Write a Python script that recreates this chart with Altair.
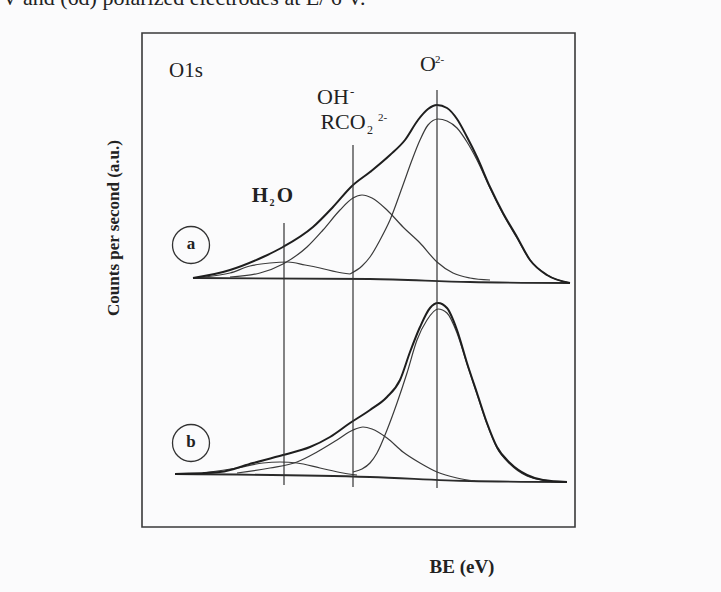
import altair as alt
import pandas as pd

# ---- data (x: binding energy, arbitrary units; y: counts, a.u.) ----
# spectrum (a)
ENV_A_X = [51, 88, 121, 141, 171, 191, 210, 228, 248, 263, 276, 286, 295, 305, 315, 325, 335, 348, 361, 375, 388, 405, 428]
ENV_A_Y = [249, 257, 270, 280, 300, 320, 341, 355, 372, 387, 407, 418, 422, 419, 408, 390, 370, 340, 314, 290, 267, 252, 244]
O2_A_X = [208, 220, 228, 238, 248, 261, 270, 278, 286, 296, 305, 315, 325, 335, 348, 361, 375, 388, 405, 428]
O2_A_Y = [253, 261, 270, 287, 307, 342, 367, 387, 402, 408, 406, 399, 385, 367, 339, 313, 289, 267, 252, 244]
OH_A_X = [88, 118, 141, 165, 181, 198, 211, 220, 230, 245, 261, 278, 295, 311, 328, 348]
OH_A_Y = [250, 254, 263, 280, 297, 317, 329, 332, 329, 317, 300, 284, 265, 254, 249, 247]
H2O_A_X = [63, 88, 108, 128, 146, 163, 178, 195, 208]
H2O_A_Y = [250, 254, 261, 264, 265, 262, 259, 255, 253]
BASE_A_X = [51, 228, 328, 428]
BASE_A_Y = [249, 248, 245, 244]

# spectrum (b)
ENV_B_X = [33, 78, 111, 141, 168, 188, 208, 228, 245, 258, 268, 278, 288, 296, 305, 315, 325, 335, 345, 355, 368, 385, 401, 425]
ENV_B_Y = [53, 55, 64, 72, 80, 90, 104, 117, 130, 147, 175, 200, 219, 224, 219, 197, 164, 134, 104, 80, 64, 52, 47, 45]
O2_B_X = [211, 220, 228, 235, 245, 255, 265, 275, 285, 296, 305, 315, 325, 335, 345, 355, 368, 385, 401, 425]
O2_B_Y = [55, 58, 64, 74, 97, 124, 154, 187, 207, 218, 214, 194, 163, 133, 103, 79, 63, 51, 47, 45]
OH_B_X = [95, 128, 155, 175, 195, 211, 221, 230, 245, 261, 278, 295, 315, 333]
OH_B_Y = [54, 59, 65, 75, 87, 97, 100, 98, 89, 75, 64, 55, 49, 46]
H2O_B_X = [61, 95, 121, 138, 155, 178, 201, 215]
H2O_B_Y = [54, 59, 64, 65, 64, 59, 54, 52]
BASE_B_X = [33, 228, 328, 425]
BASE_B_Y = [53, 50, 46, 45]

# peak position markers (H2O, OH/RCO2, O2-)
MARK_X = [142, 211, 295]
MARK_Y_LOW = [42, 40, 39]
MARK_Y_HIGH = [304, 382, 437]

# spectrum tags
TAG_TEXT = ["a", "b"]
TAG_X = [49, 49]
TAG_Y = [282, 84]

SERIF = "Liberation Serif"
INK = "#222222"


def frame(name, xs, ys):
    return pd.DataFrame({"be": xs, "counts": ys, "curve": name})


envelopes = pd.concat([frame("a", ENV_A_X, ENV_A_Y), frame("b", ENV_B_X, ENV_B_Y)])
components = pd.concat([
    frame("a O2-", O2_A_X, O2_A_Y), frame("a OH", OH_A_X, OH_A_Y), frame("a H2O", H2O_A_X, H2O_A_Y),
    frame("b O2-", O2_B_X, O2_B_Y), frame("b OH", OH_B_X, OH_B_Y), frame("b H2O", H2O_B_X, H2O_B_Y),
])
baselines = pd.concat([frame("a", BASE_A_X, BASE_A_Y), frame("b", BASE_B_X, BASE_B_Y)])
markers = pd.DataFrame({"be": MARK_X, "lo": MARK_Y_LOW, "hi": MARK_Y_HIGH})
tags = pd.DataFrame({"be": TAG_X, "counts": TAG_Y, "t": TAG_TEXT})

xs = alt.Scale(domain=[0, 433], nice=False, zero=False)
ys = alt.Scale(domain=[0, 494], nice=False, zero=False)
X = alt.X("be:Q", scale=xs, axis=None)
Y = alt.Y("counts:Q", scale=ys, axis=None)

env_layer = alt.Chart(envelopes).mark_line(
    interpolate="monotone", color="#1e1e1e", strokeWidth=2.0
).encode(x=X, y=Y, detail="curve:N")

comp_layer = alt.Chart(components).mark_line(
    interpolate="monotone", color="#3a3a3a", strokeWidth=1.2
).encode(x=X, y=Y, detail="curve:N")

base_layer = alt.Chart(baselines).mark_line(
    interpolate="monotone", color="#2a2a2a", strokeWidth=1.8
).encode(x=X, y=Y, detail="curve:N")

rule_layer = alt.Chart(markers).mark_rule(color="#333333", strokeWidth=1.2).encode(
    x=X, y=alt.Y("lo:Q", scale=ys, axis=None), y2="hi:Q"
)

circle_layer = alt.Chart(tags).mark_point(
    shape="circle", size=1369, filled=False, color="#333333", strokeWidth=1.3, opacity=1
).encode(x=X, y=Y)

tag_text = alt.Chart(tags).mark_text(
    font=SERIF, fontSize=17, fontWeight="bold", color=INK, baseline="middle", dy=-1
).encode(x=X, y=Y, text="t:N")


def label(text, x, y, size=21, weight="normal", align="center", baseline="alphabetic", angle=0):
    d = pd.DataFrame({"be": [x], "counts": [y], "t": [text]})
    return alt.Chart(d).mark_text(
        font=SERIF, fontSize=size, fontWeight=weight, align=align, baseline=baseline,
        color=INK, angle=angle
    ).encode(x=X, y=Y, text="t:N")


labels = [
    label("O1s", 44, 450, size=21),
    label("O", 286, 456, size=22),
    label("2-", 293, 464, size=11, align="left"),
    label("OH", 191, 423, size=22),
    label("-", 208, 431, size=13, align="left"),
    label("RCO", 201, 398, size=22),
    label("2", 225, 393, size=12, align="left"),
    label("2-", 236, 406, size=11, align="left"),
    label("H", 118, 325, size=21, weight="bold"),
    label("2", 130, 321, size=10, weight="bold"),
    label("O", 143, 325, size=21, weight="bold"),
    label("Counts per second (a.u.)", -28, 299, size=17, weight="bold", baseline="middle", angle=270),
    label("BE (eV)", 320, -40, size=19, weight="bold", baseline="middle"),
    label("V and (6d) polarized electrodes at E/ 6 V.", -140, 522, size=22, align="left"),
]

chart = alt.layer(
    base_layer, comp_layer, env_layer, rule_layer, circle_layer, tag_text, *labels
).properties(
    width=433,
    height=494,
    padding={"left": 142, "top": 33, "right": 146, "bottom": 65},
    autosize="none",
    background="#fbfbfc",
).configure_view(stroke="#3a3a3a", strokeWidth=1.6)

chart.save("out.html", embed_options={"renderer": "svg", "actions": False})
